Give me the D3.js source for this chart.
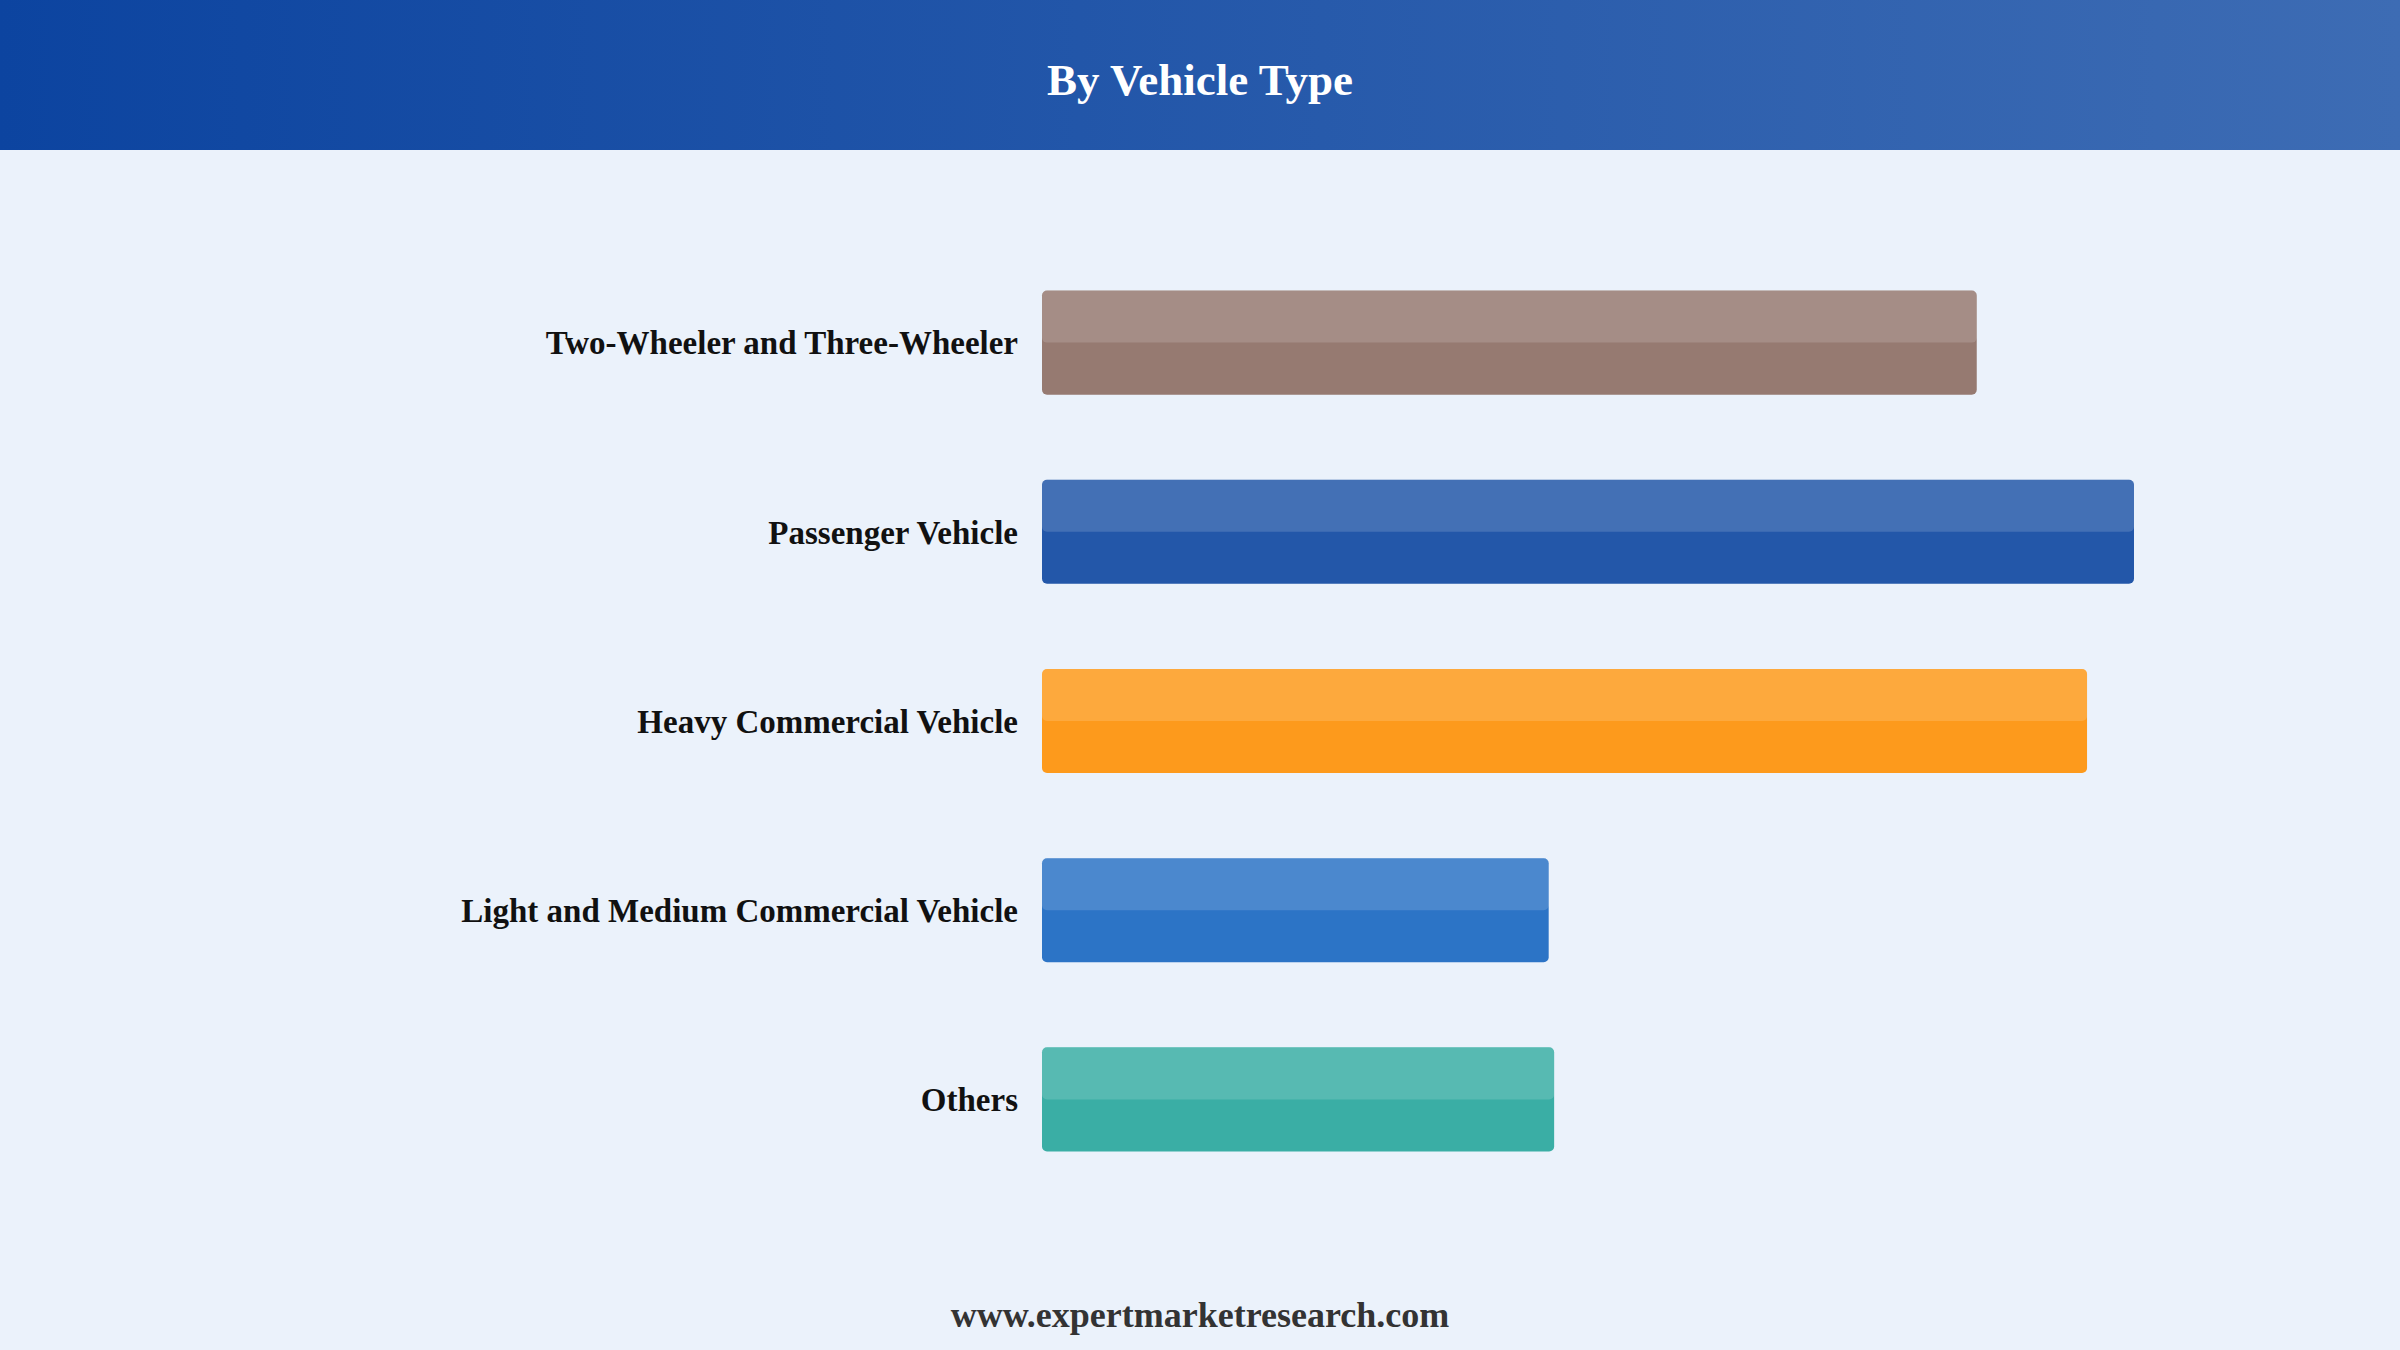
<!DOCTYPE html>
<html>
<head>
<meta charset="utf-8">
<script src="https://cdn.jsdelivr.net/npm/d3@7"></script>
<style>
  html, body { margin: 0; padding: 0; background: #ebf2fb; }
  svg { display: block; }
</style>
</head>
<body>
<div id="chart"></div>
<script>
// chart data
var categories = [
  "Two-Wheeler and Three-Wheeler",
  "Passenger Vehicle",
  "Heavy Commercial Vehicle",
  "Light and Medium Commercial Vehicle",
  "Others"
];
var values = [85.6, 100, 95.7, 46.4, 46.9];
var barColors = ["#967a71", "#2357a9", "#fd9a1c", "#2c74c6", "#3aaea5"];
var titleText = "By Vehicle Type";
var footerText = "www.expertmarketresearch.com";

// svg dimensions
var width = 2400;
var height = 1350;
var headerHeight = 150;
var margin = { top : 248, right : 266, bottom : 156, left : 1042 };

var svg = d3.select("#chart").append("svg")
    .attr("width", width)
    .attr("height", height);

// header gradient
var grad = svg.append("defs").append("linearGradient")
    .attr("id", "headerGrad")
    .attr("x1", "0%").attr("x2", "100%")
    .attr("y1", "0%").attr("y2", "0%");
grad.append("stop").attr("offset", "0%").attr("stop-color", "#0c44a0");
grad.append("stop").attr("offset", "100%").attr("stop-color", "#3d6cb4");

svg.append("rect")
    .attr("width", width)
    .attr("height", height)
    .attr("fill", "#ebf2fb");

svg.append("rect")
    .attr("width", width)
    .attr("height", headerHeight)
    .attr("fill", "url(#headerGrad)");

svg.append("text")
    .attr("x", width / 2)
    .attr("y", 95)
    .attr("text-anchor", "middle")
    .attr("font-family", "'Liberation Serif', 'Times New Roman', serif")
    .attr("font-weight", "bold")
    .attr("font-size", 45)
    .attr("fill", "#ffffff")
    .text(titleText);

// scales
var x = d3.scaleLinear()
    .domain([0, 100])
    .range([0, 1092]);

var y = d3.scaleBand()
    .domain(categories)
    .range([margin.top, height - margin.bottom])
    .paddingInner(0.45)
    .paddingOuter(0.225);

var g = svg.append("g")
    .attr("transform", "translate(" + margin.left + ",0)");

var rows = g.selectAll(".bar")
    .data(categories)
    .enter()
    .append("g")
      .attr("class", "bar")
      .attr("transform", function(d) { return "translate(0," + y(d) + ")"; });

// main bar
rows.append("rect")
    .attr("rx", 5)
    .attr("ry", 5)
    .attr("height", y.bandwidth())
    .attr("width", function(d, i) { return x(values[i]); })
    .attr("fill", function(d, i) { return barColors[i]; });

// glossy top half
rows.append("rect")
    .attr("rx", 5)
    .attr("ry", 5)
    .attr("height", y.bandwidth() / 2)
    .attr("width", function(d, i) { return x(values[i]); })
    .attr("fill", "#ffffff")
    .attr("fill-opacity", 0.15);

// category labels
rows.append("text")
    .attr("x", -24)
    .attr("y", y.bandwidth() / 2)
    .attr("dy", "0.36em")
    .attr("text-anchor", "end")
    .attr("font-family", "'Liberation Serif', 'Times New Roman', serif")
    .attr("font-weight", "bold")
    .attr("font-size", 33)
    .attr("fill", "#111111")
    .text(function(d) { return d; });

// footer
svg.append("text")
    .attr("x", width / 2)
    .attr("y", 1327)
    .attr("text-anchor", "middle")
    .attr("font-family", "'Liberation Serif', 'Times New Roman', serif")
    .attr("font-weight", "bold")
    .attr("font-size", 36)
    .attr("fill", "#333333")
    .text(footerText);
</script>
</body>
</html>
